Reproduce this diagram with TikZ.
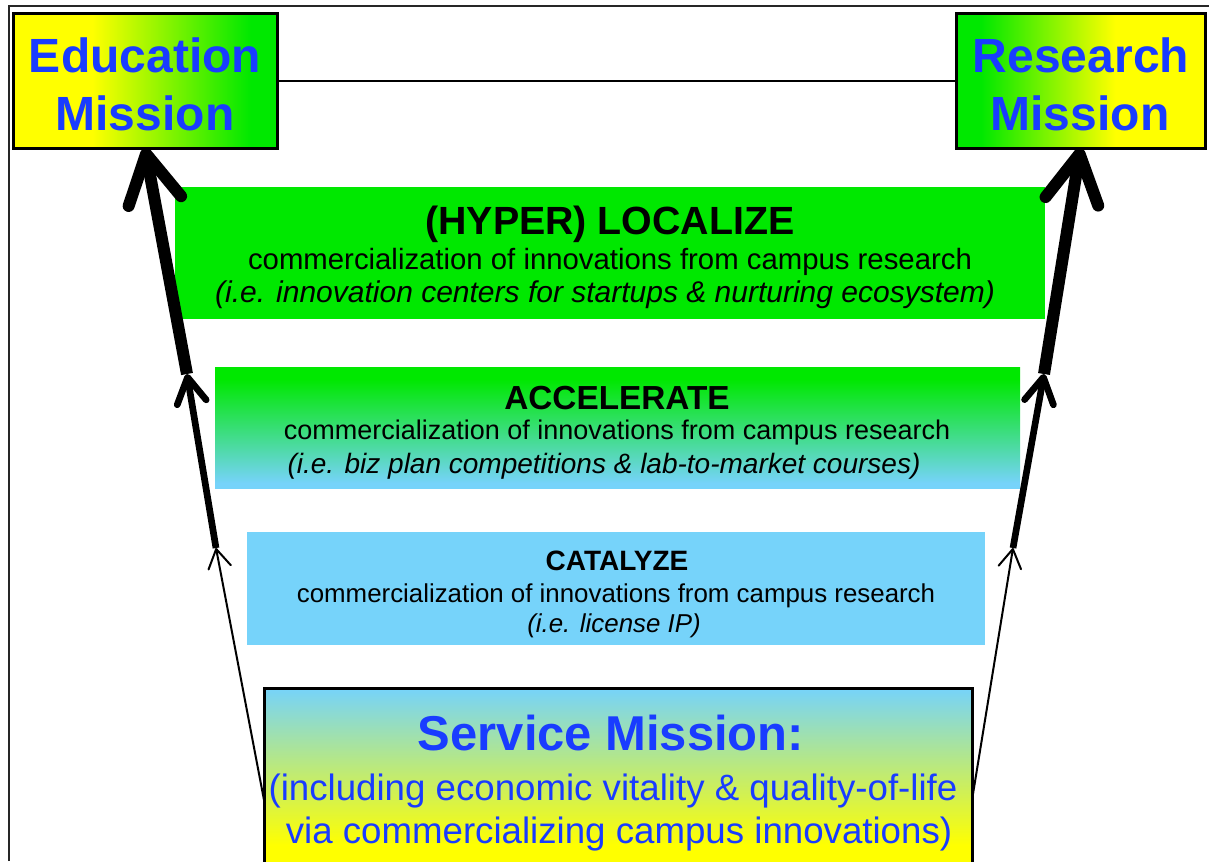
\documentclass[tikz,border=0pt]{standalone}
\usepackage{fontspec}
\setmainfont{Liberation Sans}
\usetikzlibrary{arrows.meta,shadows}

\definecolor{edgreen}{RGB}{0,232,0}
\definecolor{skyblue}{RGB}{118,211,250}
\definecolor{padyellow}{RGB}{255,255,0}
\definecolor{missionblue}{RGB}{25,60,255}

\pgfdeclarehorizontalshading{edufade}{100bp}{color(0bp)=(padyellow); color(40bp)=(padyellow); color(70bp)=(edgreen); color(100bp)=(edgreen)}
\pgfdeclarehorizontalshading{resfade}{100bp}{color(0bp)=(edgreen); color(30bp)=(edgreen); color(57bp)=(padyellow); color(100bp)=(padyellow)}
\pgfdeclareverticalshading{srvfade}{100bp}{color(0bp)=(padyellow); color(34bp)=(padyellow); color(75bp)=(skyblue); color(100bp)=(skyblue)}
\pgfdeclareverticalshading{accfade}{100bp}{color(0bp)=(skyblue); color(27bp)=(skyblue); color(70bp)=(edgreen); color(100bp)=(edgreen)}

\begin{document}
\begin{tikzpicture}[x=0.75pt,y=-0.75pt,
  mission/.style={draw=black, line width=2.25pt, inner sep=0pt, outer sep=0pt,
    drop shadow={shadow xshift=1.5pt, shadow yshift=-1.5pt, opacity=0.45}},
  band/.style={inner sep=0pt, outer sep=0pt},
  txt/.style={anchor=base, inner sep=0pt},
  weakarrow/.style={line width=1.5pt, -{Straight Barb[length=14pt,width=17pt,round]}},
  midarrow/.style={line width=5pt, -{Straight Barb[length=19pt,width=22pt,round]}},
  strongarrow/.style={line width=9pt, -{Straight Barb[length=36pt,width=40pt,round]}}]

\useasboundingbox (0,0) rectangle (1209,861);

% frame
\draw [line width=1.5pt, black!85] (9,861) -- (9,6) -- (1209,6);

% the two missions on top
\node [mission, shade, shading=edufade, minimum width=198pt, minimum height=101.25pt] (edu) at (145,80.5) {};
\node [mission, shade, shading=resfade, minimum width=186.75pt, minimum height=101.25pt] (res) at (1080.5,80.5) {};
\draw [line width=1.5pt] (edu.east) -- (res.west);

\node [txt, text=missionblue, font=\bfseries\fontsize{36}{40}\selectfont] (edutop) at (145,72) {Education};
\node [txt, text=missionblue, font=\bfseries\fontsize{36}{40}\selectfont] (edubot) at (145,130) {Mission};
\node [txt, text=missionblue, font=\bfseries\fontsize{36}{40}\selectfont] (restop) at (1081,72) {Research};
\node [txt, text=missionblue, font=\bfseries\fontsize{36}{40}\selectfont] (resbot) at (1080,130) {Mission};

% the three bands
\node [band, fill=edgreen, minimum width=652.5pt, minimum height=99pt] (loc) at (610,253) {};
\node [band, shade, shading=accfade, minimum width=603.75pt, minimum height=90.75pt] (acc) at (617.5,427.5) {};
\node [band, fill=skyblue, minimum width=553.5pt, minimum height=84.75pt] (cat) at (616,588.5) {};

\node [txt, font=\bfseries\fontsize{29.5}{33}\selectfont] (loctitle) at (610,234) {(HYPER) LOCALIZE};
\node [txt, font=\fontsize{22}{26}\selectfont] (locline) at (610,269) {commercialization of innovations from campus research};
\node [txt, font=\itshape\fontsize{22.5}{26}\selectfont] (locnote) at (605,302) {(i.e. innovation centers for startups \& nurturing ecosystem)};

\node [txt, font=\bfseries\fontsize{25}{29}\selectfont] (acctitle) at (617,409) {ACCELERATE};
\node [txt, font=\fontsize{20.25}{24}\selectfont] (accline) at (617,439) {commercialization of innovations from campus research};
\node [txt, font=\itshape\fontsize{21}{24}\selectfont] (accnote) at (604,473) {(i.e. biz plan competitions \& lab-to-market courses)};

\node [txt, font=\bfseries\fontsize{21}{24}\selectfont] (cattitle) at (617,570) {CATALYZE};
\node [txt, font=\fontsize{19.4}{23}\selectfont] (catline) at (616,602) {commercialization of innovations from campus research};
\node [txt, font=\itshape\fontsize{19.4}{23}\selectfont] (catnote) at (614,632) {(i.e. license IP)};

% arrows up the sides
\coordinate (l0) at (264,800);
\coordinate (l1) at (216,548);
\coordinate (l2) at (187,374);
\coordinate (r0) at (972,800);
\coordinate (r1) at (1013,548);
\coordinate (r2) at (1044,374);
\draw [weakarrow] (l0) -- (l1);
\draw [midarrow] (l1) -- (l2);
\draw [strongarrow] (l2) -- (edu.south);
\draw [weakarrow] (r0) -- (r1);
\draw [midarrow] (r1) -- (r2);
\draw [strongarrow] (r2) -- (res.south);

% service mission at the bottom
\node [mission, shade, shading=srvfade, minimum width=531pt, minimum height=144pt] (srv) at (618,784) {};
\node [txt, text=missionblue, font=\bfseries\fontsize{36.7}{40}\selectfont] (srvtitle) at (611,750) {Service Mission:};
\node [txt, text=missionblue, font=\fontsize{27.5}{31}\selectfont] (srvline) at (613,800) {(including economic vitality \& quality-of-life};
\node [txt, text=missionblue, font=\fontsize{27.5}{31}\selectfont] (srvnote) at (619,843) {via commercializing campus innovations)};

\end{tikzpicture}
\end{document}
